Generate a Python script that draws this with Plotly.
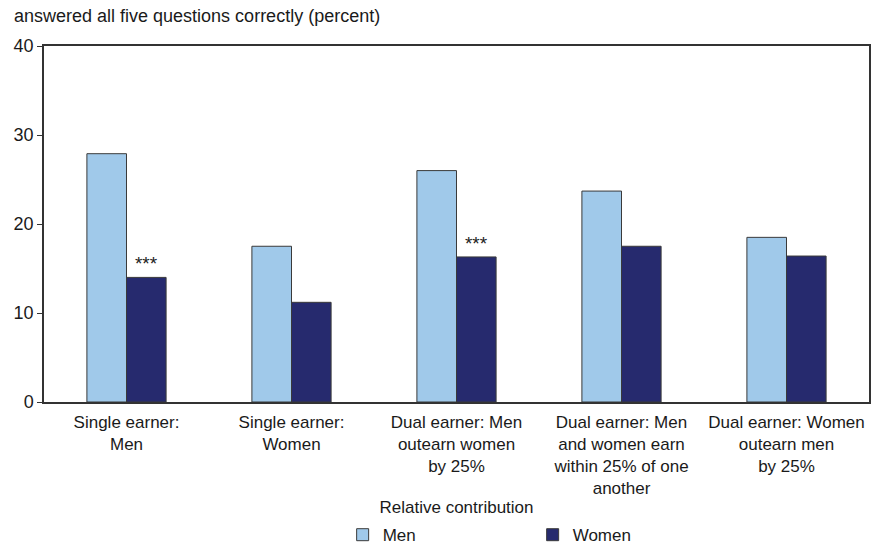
import plotly.graph_objects as go

categories = [
    "Single earner:<br>Men",
    "Single earner:<br>Women",
    "Dual earner: Men<br>outearn women<br>by 25%",
    "Dual earner: Men<br>and women earn<br>within 25% of one<br>another",
    "Dual earner: Women<br>outearn men<br>by 25%",
]
men = [27.9, 17.5, 26.0, 23.7, 18.5]
women = [14.0, 11.2, 16.3, 17.5, 16.4]
women_marks = ["***", "", "***", "", ""]

FONT = "Liberation Sans, Arial, sans-serif"
MEN_COLOR = "#A0C9EA"
WOMEN_COLOR = "#262A6E"
EDGE = "#3a3a3a"

fig = go.Figure()
fig.add_trace(go.Bar(
    x=categories, y=men, name="Men",
    marker=dict(color=MEN_COLOR, line=dict(color=EDGE, width=1)),
))
fig.add_trace(go.Bar(
    x=categories, y=women, name="Women",
    marker=dict(color=WOMEN_COLOR, line=dict(color=EDGE, width=1)),
    text=women_marks, textposition="outside",
    textfont=dict(family=FONT, size=19, color="#222"),
    cliponaxis=False,
))

fig.update_layout(
    width=878, height=546,
    margin=dict(l=44, r=9, t=46, b=144, autoexpand=False),
    paper_bgcolor="white", plot_bgcolor="white",
    font=dict(family=FONT, size=17, color="#1a1a1a"),
    barmode="group", bargap=0.52, bargroupgap=0,
    showlegend=True,
    legend=dict(
        orientation="h", x=0.362, xanchor="left", y=-0.374, yanchor="middle",
        font=dict(family=FONT, size=17),
        entrywidth=145, entrywidthmode="pixels",
        traceorder="normal", bgcolor="rgba(0,0,0,0)",
    ),
    uniformtext=dict(minsize=8, mode="show"),
)

fig.update_xaxes(
    showline=True, linecolor="#333", linewidth=1.5, mirror=True,
    ticks="", tickfont=dict(family=FONT, size=17), automargin=False,
    ticklabelstandoff=4,
    title=dict(text="Relative contribution", font=dict(family=FONT, size=17), standoff=4),
)
fig.update_yaxes(
    range=[0, 40], tickvals=[0, 10, 20, 30, 40],
    showline=True, linecolor="#333", linewidth=1.5, mirror=True,
    ticks="outside", ticklen=5, tickcolor="#333",
    showgrid=False, zeroline=False, automargin=False,
    tickfont=dict(family=FONT, size=18),
)

fig.add_annotation(
    text="answered all five questions correctly (percent)",
    xref="paper", yref="paper", x=-0.039, y=1.0, yshift=18,
    xanchor="left", yanchor="bottom", showarrow=False,
    font=dict(family=FONT, size=18),
)

fig.write_html("out.html")
